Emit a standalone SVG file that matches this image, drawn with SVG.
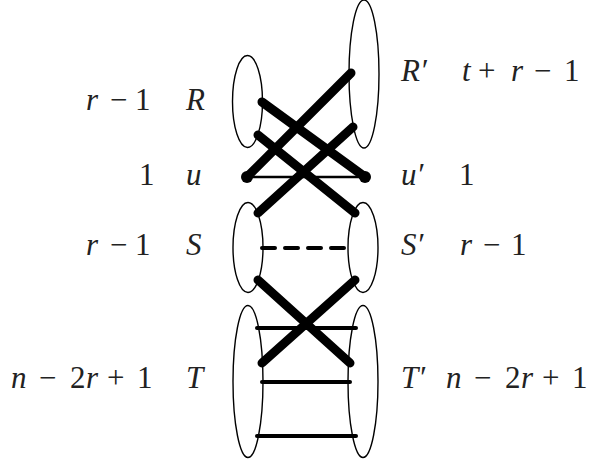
<svg xmlns="http://www.w3.org/2000/svg" width="597" height="460" viewBox="0 0 597 460">
<style>
.set{fill:none;stroke:#000;stroke-width:1.4}
text{font-family:'Liberation Serif','Times New Roman',serif;font-size:31px;fill:#222}
.i{font-style:italic}
.thick{stroke:#000;stroke-width:9;stroke-linecap:round;fill:none}
.mid{stroke:#000;stroke-width:4;stroke-linecap:round;fill:none}
.thin{stroke:#000;stroke-width:2.5;fill:none}
</style>
<rect width="597" height="460" fill="#fff"/>
<g id="connectors">
<line class="thin" x1="247" y1="177" x2="365" y2="177"/>
<line class="thick" x1="247" y1="177" x2="351" y2="73"/>
<line class="thick" x1="262" y1="102" x2="365" y2="177"/>
<line class="thick" x1="258" y1="135" x2="355" y2="213"/>
<line class="thick" x1="353" y1="127" x2="258" y2="213"/>
<line class="mid" x1="262" y1="248" x2="345" y2="248" stroke-dasharray="13 10" stroke-linecap="butt"/>
<line class="thick" x1="258" y1="280" x2="350" y2="363"/>
<line class="thick" x1="355" y1="280" x2="262" y2="363"/>
<line class="mid" x1="257" y1="328" x2="356" y2="328"/>
<line class="mid" x1="262" y1="382" x2="350" y2="382"/>
<line class="mid" x1="257" y1="436" x2="356" y2="436"/>
</g>
<g id="R">
<ellipse class="set" cx="247.5" cy="101.5" rx="15" ry="46"/>
<text y="110"><tspan class="i" x="86">r</tspan><tspan x="110">−</tspan><tspan x="135">1</tspan><tspan class="i" x="186">R</tspan></text>
</g>
<g id="Rp">
<ellipse class="set" cx="364" cy="74" rx="15" ry="74"/>
<text y="81"><tspan class="i" x="401">R′</tspan><tspan class="i" x="462">t</tspan><tspan x="478">+</tspan><tspan class="i" x="511">r</tspan><tspan x="534">−</tspan><tspan x="564">1</tspan></text>
</g>
<g id="u">
<circle cx="247" cy="177" r="6"/>
<text y="185"><tspan x="139">1</tspan><tspan class="i" x="186">u</tspan></text>
</g>
<g id="up">
<circle cx="365" cy="177" r="6"/>
<text y="185"><tspan class="i" x="401">u′</tspan><tspan x="459">1</tspan></text>
</g>
<g id="S">
<ellipse class="set" cx="248" cy="247.5" rx="15" ry="45"/>
<text y="255"><tspan class="i" x="86">r</tspan><tspan x="110">−</tspan><tspan x="135">1</tspan><tspan class="i" x="186">S</tspan></text>
</g>
<g id="Sp">
<ellipse class="set" cx="363" cy="247.5" rx="15" ry="45"/>
<text y="255"><tspan class="i" x="401">S′</tspan><tspan class="i" x="460">r</tspan><tspan x="483">−</tspan><tspan x="511">1</tspan></text>
</g>
<g id="T">
<ellipse class="set" cx="248" cy="381.5" rx="15" ry="76"/>
<text y="388"><tspan class="i" x="11">n</tspan><tspan x="39">−</tspan><tspan x="70">2</tspan><tspan class="i" x="86">r</tspan><tspan x="107">+</tspan><tspan x="137">1</tspan><tspan class="i" x="186">T</tspan></text>
</g>
<g id="Tp">
<ellipse class="set" cx="363" cy="381.5" rx="15" ry="76"/>
<text y="388"><tspan class="i" x="401">T′</tspan><tspan class="i" x="446">n</tspan><tspan x="474">−</tspan><tspan x="505">2</tspan><tspan class="i" x="521">r</tspan><tspan x="542">+</tspan><tspan x="572">1</tspan></text>
</g>
</svg>
